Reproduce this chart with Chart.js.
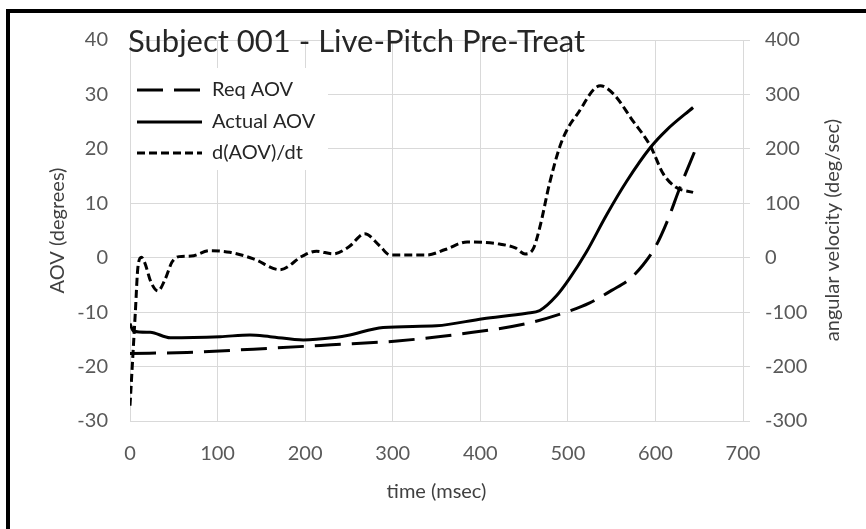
<!DOCTYPE html>
<html>
<head>
<meta charset="utf-8">
<title>Subject 001 - Live-Pitch Pre-Treat</title>
<script src="https://cdn.jsdelivr.net/npm/chart.js@4.4.1/dist/chart.umd.min.js"></script>
<style>
    html, body { margin:0; padding:0; background:#fff; overflow:hidden; }
    #wrap { position:absolute; left:0; top:0; width:866px; height:529px; }
</style>
</head>
<body>
<div id="wrap"><canvas id="aovChart" width="866" height="529"></canvas></div>
<script>
// values
const chartTitle = "Subject 001 - Live-Pitch Pre-Treat";
const seriesNames = ["Req AOV", "Actual AOV", "d(AOV)/dt"];

// Req AOV (degrees)
const reqTime = [0, 65, 141, 230, 305, 378, 453, 498, 525, 550, 570, 586, 600, 613, 628, 645];
const reqAov  = [-17.6, -17.4, -16.8, -16.0, -15.3, -14.0, -12.1, -10.0, -8.3, -6.0, -4.0, -1.3, 2.0, 6.5, 12.9, 19.6];

// Actual AOV (degrees)
const actTime = [0, 4, 23, 46, 103, 137, 160, 198, 236, 248, 289, 350, 403, 453, 468, 487, 502, 521, 544, 567, 594, 613, 643];
const actAov  = [-12.1, -13.5, -13.7, -14.7, -14.5, -14.2, -14.5, -15.1, -14.6, -14.3, -12.8, -12.5, -11.2, -10.2, -9.7, -7.0, -3.8, 1.0, 7.8, 14.0, 20.2, 23.5, 27.6];

// d(AOV)/dt (deg/sec)
const velTime = [0, 6, 9, 13, 17, 24, 32, 40, 48, 56, 70, 91, 114, 141, 171, 198, 213, 232, 250, 268, 285, 297, 339, 360, 385, 422, 440, 451, 460, 468, 479, 491, 500, 510, 537, 552, 574, 594, 609, 624, 643];
const velocity = [-272, -103, -18, 1, -10, -45, -61, -40, -8, 2, 3, 13, 10, -2, -22, 4, 12, 7, 20, 44, 22, 5, 5, 15, 29, 25, 18, 7, 15, 56, 136, 205, 238, 262, 316, 301, 252, 206, 154, 129, 120];

// axis ranges / ticks
const timeTicks = [0, 700, 100];
const aovTicks = [-30, 40, 10];
const velTicks = [-300, 400, 100];

const toPoints = (xs, ys) => xs.map((x, i) => ({x: x, y: ys[i]}));

Chart.defaults.font.family = "Lato, 'Open Sans', sans-serif";
Chart.defaults.color = '#595959';

const gridColor = '#d9d9d9';

// outer frame (only top and left edges are inside the picture)
const frame = {
    id: 'frame',
    beforeDraw(chart) {
        const ctx = chart.ctx;
        ctx.save();
        ctx.fillStyle = '#000';
        ctx.fillRect(6, 9, chart.width - 6, 4);
        ctx.fillRect(6, 9, 4, chart.height - 9);
        ctx.restore();
    }
};

// title, right axis title and in-plot legend
const extras = {
    id: 'extras',
    afterDraw(chart) {
        const ctx = chart.ctx;
        ctx.save();
        ctx.font = "31px Lato";
        ctx.fillStyle = '#262626';
        ctx.textBaseline = 'alphabetic';
        ctx.textAlign = 'left';
        ctx.fillText(chartTitle, 128, 52);
        ctx.restore();

        // legend box
        ctx.save();
        ctx.fillStyle = '#fff';
        ctx.fillRect(131, 68, 197, 102);
        const rows = [90, 122, 153];
        chart.data.datasets.forEach((ds, i) => {
            ctx.beginPath();
            ctx.setLineDash(ds.borderDash || []);
            ctx.lineWidth = ds.borderWidth;
            ctx.strokeStyle = ds.borderColor;
            ctx.moveTo(137, rows[i]);
            ctx.lineTo(202, rows[i]);
            ctx.stroke();
            ctx.setLineDash([]);
            ctx.font = "20px Lato";
            ctx.fillStyle = '#262626';
            ctx.textBaseline = 'middle';
            ctx.fillText(ds.label, 212, rows[i]);
        });
        ctx.restore();

        // right axis title, reads bottom to top
        ctx.save();
        ctx.translate(833, 230);
        ctx.rotate(-Math.PI / 2);
        ctx.font = "20px Lato";
        ctx.fillStyle = '#404040';
        ctx.textAlign = 'center';
        ctx.textBaseline = 'middle';
        ctx.fillText('angular velocity (deg/sec)', 0, 0);
        ctx.restore();
    }
};

new Chart(document.getElementById('aovChart'), {
    type: 'line',
    data: {
        datasets: [
            {
                label: seriesNames[0],
                data: toPoints(reqTime, reqAov),
                borderColor: '#000',
                borderWidth: 3,
                borderDash: [26, 11],
                yAxisID: 'y'
            },
            {
                label: seriesNames[1],
                data: toPoints(actTime, actAov),
                borderColor: '#000',
                borderWidth: 3,
                yAxisID: 'y'
            },
            {
                label: seriesNames[2],
                data: toPoints(velTime, velocity),
                borderColor: '#000',
                borderWidth: 3,
                borderDash: [8, 4],
                yAxisID: 'y2'
            }
        ]
    },
    options: {
        responsive: false,
        animation: false,
        layout: { padding: { top: 40, left: 0, right: 0, bottom: 0 } },
        elements: {
            point: { radius: 0 },
            line: { cubicInterpolationMode: 'monotone', fill: false }
        },
        plugins: {
            legend: { display: false },
            tooltip: { enabled: false },
            title: { display: false }
        },
        scales: {
            x: {
                type: 'linear',
                min: timeTicks[0], max: timeTicks[1],
                ticks: { stepSize: timeTicks[2], padding: 21, font: { size: 20 }, color: '#595959' },
                grid: { color: gridColor, drawTicks: false },
                border: { color: gridColor },
                title: { display: true, text: 'time (msec)', color: '#404040', font: { size: 20 }, padding: { top: 0, bottom: 25 } },
                afterFit: s => { s.height = 108; }
            },
            y: {
                position: 'left',
                min: aovTicks[0], max: aovTicks[1],
                ticks: { stepSize: aovTicks[2], padding: 22, font: { size: 20 }, color: '#595959' },
                grid: { color: gridColor, drawTicks: false },
                border: { color: gridColor },
                title: { display: true, text: 'AOV (degrees)', color: '#404040', font: { size: 20 }, padding: { top: 46, bottom: 0 } },
                afterFit: s => { s.width = 130; }
            },
            y2: {
                position: 'right',
                min: velTicks[0], max: velTicks[1],
                ticks: { stepSize: velTicks[2], padding: 15, font: { size: 20 }, color: '#595959' },
                grid: { color: gridColor, drawOnChartArea: false, drawTicks: true, tickLength: 7 },
                border: { color: gridColor },
                afterFit: s => { s.width = 123; }
            }
        }
    },
    plugins: [frame, extras]
});
</script>
</body>
</html>
